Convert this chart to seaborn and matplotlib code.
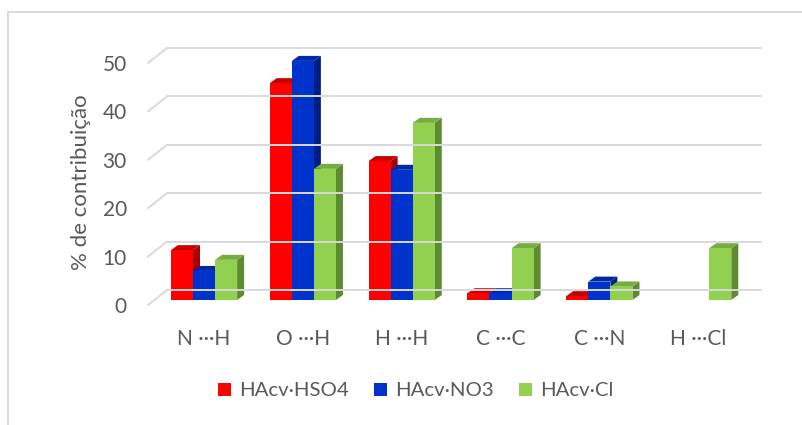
import matplotlib
matplotlib.use("Agg")
import matplotlib.pyplot as plt
import matplotlib.transforms as mtrans
from matplotlib.patches import Polygon, Rectangle, Patch
from matplotlib.lines import Line2D
import seaborn as sns
import pandas as pd

# Contact contributions (%) per interaction type
categories = ["N ···H", "O ···H", "H ···H", "C ···C", "C ···N", "H ···Cl"]
series = ["HAcv·HSO4", "HAcv·NO3", "HAcv·Cl"]
hso4 = [10.3, 44.8, 28.7, 1.4, 0.8, 0.0]
no3 = [6.0, 49.4, 26.9, 1.4, 3.8, 0.0]
cl = [8.3, 27.1, 36.6, 10.7, 2.8, 10.7]
yticks = [0, 10, 20, 30, 40, 50]

front_colors = ["#FF0000", "#0033CC", "#92D050"]
top_colors = ["#C80000", "#0029A8", "#78AC42"]
side_colors = ["#A80000", "#001E82", "#5E8A32"]
text_color = "#595959"
grid_color = "#D9D9D9"

df = pd.DataFrame({
    "cat": categories * 3,
    "val": hso4 + no3 + cl,
    "series": [s for s in series for _ in categories],
})

W, H = 803, 425
sns.set_theme(style="white")
plt.rcParams["font.family"] = ["Lato", "DejaVu Sans"]

fig = plt.figure(figsize=(W / 100, H / 100), dpi=100)
ax = fig.add_axes([154.6 / W, 1 - 300 / H, 593 / W, 266.2 / H])

sns.barplot(data=df, x="cat", y="val", hue="series", order=categories,
            hue_order=series, palette=front_colors, saturation=1,
            width=0.67, errorbar=None, legend=False, linewidth=0, ax=ax)

ax.set_xlim(-0.5, 5.5)
ax.set_ylim(0, 55)
ax.set_yticks(yticks)
ax.set_yticklabels([str(v) for v in yticks])
for s in ax.spines.values():
    s.set_visible(False)
ax.tick_params(axis="both", length=0, labelsize=15, labelcolor=text_color)
ax.tick_params(axis="y", pad=20)
ax.tick_params(axis="x", pad=21)
ax.set_xlabel("")
ax.set_ylabel("% de contribuição", fontsize=16, color=text_color)
ax.yaxis.set_label_coords(-0.107, 0.443)

# tick labels sit on the front edge of the floor
shift = mtrans.ScaledTranslation(0, -5 / 100, fig.dpi_scale_trans)
for lab in ax.get_yticklabels():
    lab.set_transform(lab.get_transform() + shift)

ident = mtrans.IdentityTransform()
bx0 = ax.bbox.x0
bx1 = ax.bbox.x1


def disp(x, y):
    return ax.transData.transform((x, y))


# back wall gridlines and the slanted side-wall strokes
for v in yticks:
    yv = disp(0, v)[1]
    fig.add_artist(Line2D([bx0 + 12.4, bx1 + 13.4], [yv + 10, yv + 10],
                          transform=ident, color=grid_color, lw=1.4, zorder=0.5))
    fig.add_artist(Line2D([bx0 - 6.6, bx0 + 12.4], [yv - 5, yv + 10],
                          transform=ident, color=grid_color, lw=1.4, zorder=0.5))

# depth faces for each column
DX, DY = 7, 5
bars = sorted(ax.patches, key=lambda p: p.get_x())
for k, p in enumerate(bars):
    hexc = matplotlib.colors.to_hex(p.get_facecolor()).upper()
    idx = front_colors.index(hexc) if hexc in front_colors else 0
    p.set_zorder(4 + 2 * k)
    h = p.get_height()
    if h <= 0:
        continue
    x0, y0 = disp(p.get_x(), 0)
    x1, y1 = disp(p.get_x() + p.get_width(), h)
    side = Polygon([(x1, y0), (x1 + DX, y0 + DY), (x1 + DX, y1 + DY), (x1, y1)],
                   closed=True, transform=ident, facecolor=side_colors[idx],
                   edgecolor="none", zorder=3 + 2 * k, clip_on=False)
    top = Polygon([(x0, y1), (x0 + DX, y1 + DY), (x1 + DX, y1 + DY), (x1, y1)],
                  closed=True, transform=ident, facecolor=top_colors[idx],
                  edgecolor="none", zorder=3 + 2 * k, clip_on=False)
    ax.add_patch(side)
    ax.add_patch(top)

ax.set_xlim(-0.5, 5.5)
ax.set_ylim(0, 55)

handles = [Patch(facecolor=c, edgecolor="none", label=s)
           for c, s in zip(front_colors, series)]
leg = fig.legend(handles=handles, loc="center", bbox_to_anchor=(416 / W, 1 - 391 / H),
                 ncol=3, frameon=False, fontsize=14.7, handlelength=0.65,
                 handleheight=0.65, handletextpad=0.4, columnspacing=1.22)
for t in leg.get_texts():
    t.set_color(text_color)

# chart area border
fig.add_artist(Rectangle((8 / W, -0.1), 1.2, 0.1 + 413 / H, transform=fig.transFigure,
                         fill=False, edgecolor=grid_color, lw=1.4))

fig.savefig("out.png", dpi=100)
